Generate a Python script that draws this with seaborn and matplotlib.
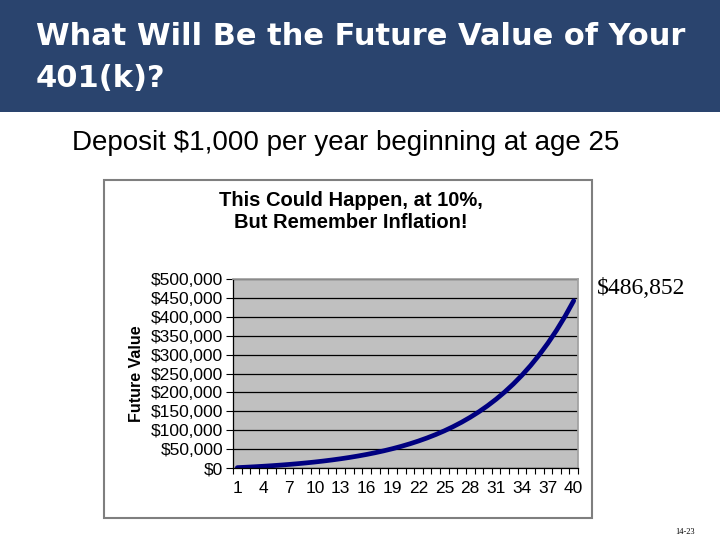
import matplotlib
matplotlib.use("Agg")
import matplotlib.pyplot as plt
import matplotlib.ticker as mticker
from matplotlib.patches import Rectangle
import seaborn as sns
import pandas as pd

# future value of $1,000 deposited yearly
years = list(range(1, 41))
future_value = [1000, 2100, 3310, 4641, 6105, 7716, 9487, 11436, 13579, 15937,
                18531, 21384, 24523, 27975, 31772, 35950, 40545, 45599, 51159, 57275,
                64002, 71403, 79543, 88497, 98347, 109182, 121100, 134210, 148631, 164494,
                181943, 201138, 222252, 245477, 271024, 299127, 330039, 364043, 401448, 442593]
x_tick_labels = list(range(1, 41, 3))
y_ticks = list(range(0, 500001, 50000))

slide_title = ["What Will Be the Future Value of Your", "401(k)?"]
subtitle = "Deposit $1,000 per year beginning at age 25"
chart_title = "This Could Happen, at 10%,\nBut Remember Inflation!"
callout = "$486,852"
page_no = "14-23"

sns.set_theme(style="white", rc={"axes.facecolor": "#C0C0C0", "text.color": "black",
                                 "xtick.color": "black", "ytick.color": "black",
                                 "axes.labelcolor": "black"})
plt.rcParams["font.family"] = ["Liberation Sans", "DejaVu Sans"]

df = pd.DataFrame({"year": years, "fv": future_value})

fig = plt.figure(figsize=(7.2, 5.4), dpi=100)
fig.patch.set_facecolor("white")

# slide banner
fig.patches.append(Rectangle((0, 0.7926), 1, 0.2074, transform=fig.transFigure,
                             facecolor="#2A446E", edgecolor="none", zorder=-2))
for i, line in enumerate(slide_title):
    fig.text(0.05, 0.933 - i * 0.078, line, color="white", fontsize=22, fontweight="bold",
             family="DejaVu Sans", va="center", ha="left")
fig.text(0.1, 0.735, subtitle, fontsize=20, va="center", ha="left")

# embedded chart frame
fig.patches.append(Rectangle((0.1444, 0.0407), 0.6778, 0.626, transform=fig.transFigure,
                             facecolor="white", edgecolor="#7F7F7F", linewidth=1.5, zorder=-1))
fig.text(0.487, 0.609, chart_title, fontsize=14.5, fontweight="bold", ha="center",
         va="center", linespacing=1.2)

ax = fig.add_axes([0.3236, 0.1333, 0.4792, 0.35])
sns.lineplot(data=df, x="year", y="fv", ax=ax, color="#000080", linewidth=3.4)

ax.set_xlim(0.5, 40.5)
ax.set_ylim(0, 500000)
ax.set_yticks(y_ticks)
ax.yaxis.set_major_formatter(mticker.FuncFormatter(lambda v, p: "${:,.0f}".format(v)))
ax.set_xticks(x_tick_labels)
ax.set_xticks([i + 0.5 for i in range(0, 41)], minor=True)
ax.tick_params(axis="x", which="major", length=0, labelsize=12.5, pad=9)
ax.tick_params(axis="x", which="minor", length=4, width=0.8, color="black", direction="out", bottom=True)
ax.tick_params(axis="y", length=5, width=0.8, color="black", direction="out", left=True, labelsize=12.5, pad=2)
ax.grid(axis="y", color="black", linewidth=0.9)
ax.set_axisbelow(True)
for side in ["top", "right"]:
    ax.spines[side].set_color("#A0A0A0")
for side in ["left", "bottom"]:
    ax.spines[side].set_color("black")
    ax.spines[side].set_linewidth(0.9)
ax.set_xlabel("")
ax.set_ylabel("Future Value", fontsize=11.5, fontweight="bold", labelpad=5)

fig.text(0.829, 0.465, callout, fontsize=17, family="Liberation Serif", va="center", ha="left")
fig.text(0.952, 0.015, page_no, fontsize=6, family="Liberation Serif", ha="center", va="center")

fig.savefig("out.png", dpi=100)
